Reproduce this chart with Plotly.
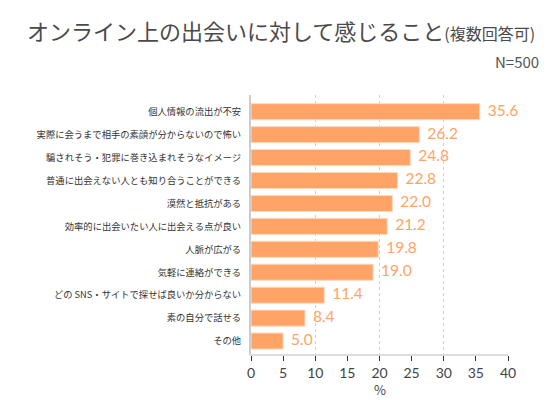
import plotly.graph_objects as go

categories = [
    "個人情報の流出が不安",
    "実際に会うまで相手の素顔が分からないので怖い",
    "騙されそう・犯罪に巻き込まれそうなイメージ",
    "普通に出会えない人とも知り合うことができる",
    "漠然と抵抗がある",
    "効率的に出会いたい人に出会える点が良い",
    "人脈が広がる",
    "気軽に連絡ができる",
    "どの SNS・サイトで探せば良いか分からない",
    "素の自分で話せる",
    "その他",
]
values = [35.6, 26.2, 24.8, 22.8, 22.0, 21.2, 19.8, 19.0, 11.4, 8.4, 5.0]
x_ticks = [0, 5, 10, 15, 20, 25, 30, 35, 40]

FONT = "Noto Sans CJK JP"
ORANGE = "#FFA466"

fig = go.Figure()
fig.add_trace(go.Bar(
    y=categories, x=values, orientation="h",
    marker=dict(color=ORANGE, line=dict(color="#FFD9BF", width=1)),
    width=0.7,
    hoverinfo="skip",
))
fig.add_trace(go.Scatter(
    y=categories, x=values, mode="text",
    text=[f"  {v:.1f}" for v in values],
    textposition="middle right",
    textfont=dict(color=ORANGE, size=15.5, family="Lato"),
    cliponaxis=False, hoverinfo="skip", showlegend=False,
))
# overlay axis for dotted gridlines every 10
fig.add_trace(go.Scatter(x=[0, 40], y=[categories[0], categories[0]], xaxis="x2",
                         mode="markers", marker=dict(opacity=0), hoverinfo="skip", showlegend=False))

fig.update_layout(
    width=560, height=400,
    margin=dict(l=251, r=52, t=95, b=46),
    plot_bgcolor="white", paper_bgcolor="white",
    showlegend=False,
    font=dict(family=FONT, color="#444444"),
    xaxis=dict(
        range=[0, 40], tickvals=x_ticks, ticks="outside", ticklen=5, tickcolor="#333333",
        tickwidth=1, showgrid=False, zeroline=False, showline=True, linecolor="#dddddd",
        linewidth=2, tickfont=dict(size=14, color="#444444", family="Lato"),
        automargin=False,
    ),
    xaxis2=dict(
        range=[0, 40], overlaying="x", dtick=10, showgrid=True, griddash="dot",
        gridcolor="#d0d0d0", gridwidth=1, showticklabels=False, zeroline=False,
        showline=False, ticks="", automargin=False,
    ),
    yaxis=dict(
        autorange="reversed", showline=True, linecolor="#cccccc", linewidth=2,
        ticks="", ticklabelstandoff=6, tickfont=dict(size=9.3, color="#333333", family=FONT),
        showgrid=False, automargin=False,
    ),
)

fig.add_annotation(
    text="%", xref="x", yref="paper", x=20, y=0, yanchor="top", yshift=-24,
    showarrow=False, font=dict(size=13, color="#444444", family=FONT),
)
fig.add_annotation(
    text="オンライン上の出会いに対して感じること<span style='font-size:16px'>(複数回答可)</span>",
    xref="paper", yref="paper", x=(25 - 251) / 257, y=1, yanchor="bottom",
    yshift=47, xanchor="left", showarrow=False,
    font=dict(size=22, color="#4a4a4a", family=FONT),
)
fig.add_annotation(
    text="N=500", xref="paper", yref="paper", x=(541 - 251) / 257, xanchor="right",
    y=1, yanchor="bottom", yshift=21, showarrow=False,
    font=dict(size=15, color="#555555", family=FONT),
)

fig.write_html("out.html", config={"displayModeBar": False},
               post_script="document.body.style.margin='0';")
